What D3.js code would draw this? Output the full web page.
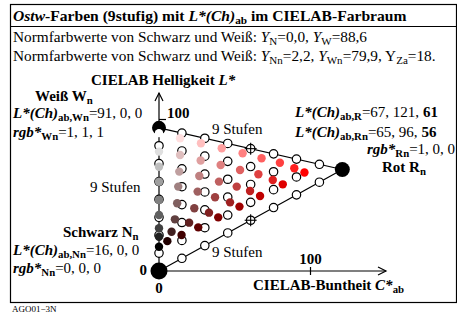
<!DOCTYPE html>
<html><head><meta charset="utf-8">
<script src="https://cdn.jsdelivr.net/npm/d3@7"></script>
<style>
body{margin:0;background:#fff}
svg{display:block}
text{font-family:"Liberation Serif","Times New Roman",serif;fill:#000}
</style>
</head><body>
<svg id="c" width="457" height="318"></svg>
<script>
// ---------- data ----------
const steps = 8;                       // 9 steps -> 8 intervals
const cornerNames = ["N", "W", "R"];
const cornerC = [0, 0, 121];           // theoretical corners (C*ab)
const cornerL = [0, 94.5, 67];         // theoretical corners (L*)
// gray axis samples (b = 0), whiteness index a = 0..8
const grayA = [0, 1, 2, 3, 4, 5, 6, 7, 8];
const grayL = [16, 22.6, 28.2, 37, 46.9, 58.9, 68.8, 78.8, 91];
// chromatic samples, one row per a+b = 8..1, red index b = 1..(a+b)
const rowSum = [8, 7, 6, 5, 4, 3, 2, 1];
const rowC = [
  [13.9, 27.7, 41.4, 55.2, 67.7, 79.8, 89.3, 96],
  [13.9, 27.5, 40.7, 53.5, 65.6, 75.1, 81.7],
  [13.4, 26.6, 39.6, 51.3, 60.1, 66.7],
  [12.7, 25.5, 37.0, 46.9, 53.1],
  [12.0, 23.3, 33.0, 39.1],
  [10.5, 19.9, 25.9],
  [8.3, 14.9],
  [5.5]
];
const rowL = [
  [87.6, 84.3, 81.0, 77.7, 74.4, 71.5, 67.8, 65],
  [76.6, 72.9, 70.0, 66.7, 63.9, 60.1, 57.2],
  [65.6, 62.7, 59.0, 55.7, 52.8, 49.5],
  [55.7, 52.4, 48.7, 45.3, 42.5],
  [44.7, 41.4, 38.5, 35.4],
  [34.1, 31.9, 28.8],
  [25.9, 23.8],
  [19.7]
];
const axisTicks = [0, 100];

// ---------- setup ----------
const svg = d3.select("#c");
const x = d3.scaleLinear().domain([0, 100]).range([159, 310.5]);
const y = d3.scaleLinear().domain([0, 100]).range([271, 119.5]);

// frame
svg.append("rect").attr("x", 10.5).attr("y", 4.5).attr("width", 446).attr("height", 298)
  .attr("fill", "none").attr("stroke", "#000").attr("stroke-width", 1.2);
svg.append("line").attr("x1", 10.5).attr("x2", 456.5).attr("y1", 26.5).attr("y2", 26.5)
  .attr("stroke", "#000").attr("stroke-width", 1.2);

function rich(px, py, parts, size, anchor) {
  const t = svg.append("text").attr("x", px).attr("y", py)
    .attr("font-size", size).attr("text-anchor", anchor || "start");
  let shift = 0;
  parts.forEach(p => {
    const s = t.append("tspan").text(p.t);
    if (p.b) s.attr("font-weight", "bold");
    if (p.i) s.attr("font-style", "italic");
    const want = p.sub ? size * 0.22 : 0;
    if (want !== shift) { s.attr("dy", want - shift); shift = want; }
    if (p.sub) s.attr("font-size", size * 0.72);
    if (p.dx) s.attr("dx", p.dx);
  });
  return t;
}

// header
rich(13, 21, [
  {t: "Ostw", b: 1, i: 1}, {t: "-Farben (9stufig) mit ", b: 1},
  {t: "L*(Ch)", b: 1, i: 1}, {t: "ab", b: 1, sub: 1}, {t: " im CIELAB-Farbraum", b: 1}
], 15.6);
rich(13, 42, [
  {t: "Normfarbwerte von Schwarz und Weiß: "}, {t: "Y", i: 1}, {t: "N", sub: 1},
  {t: "=0,0, "}, {t: "Y", i: 1}, {t: "W", sub: 1}, {t: "=88,6"}
], 15.3);
rich(13, 61, [
  {t: "Normfarbwerte von Schwarz und Weiß: "}, {t: "Y", i: 1}, {t: "Nn", sub: 1},
  {t: "=2,2, "}, {t: "Y", i: 1}, {t: "Wn", sub: 1}, {t: "=79,9, Y"}, {t: "Za", sub: 1}, {t: "=18."}
], 15.3);

// axis labels
rich(91, 85, [{t: "CIELAB Helligkeit ", b: 1}, {t: "L*", b: 1, i: 1}], 15);
rich(253, 290, [{t: "CIELAB-Buntheit ", b: 1}, {t: "C*", b: 1, i: 1}, {t: "ab", b: 1, sub: 1}], 15);

// corner labels
rich(35, 100.5, [{t: "Weiß W", b: 1}, {t: "n", b: 1, sub: 1}], 15);
rich(13, 118, [{t: "L*(Ch)", b: 1, i: 1}, {t: "ab,Wn", b: 1, sub: 1}, {t: "=91, 0, 0"}], 15);
rich(13, 137, [{t: "rgb*", b: 1, i: 1}, {t: "Wn", b: 1, sub: 1}, {t: "=1, 1, 1"}], 15);
rich(63, 237, [{t: "Schwarz N", b: 1}, {t: "n", b: 1, sub: 1}], 15);
rich(13, 255, [{t: "L*(Ch)", b: 1, i: 1}, {t: "ab,Nn", b: 1, sub: 1}, {t: "=16, 0, 0"}], 15);
rich(13, 273, [{t: "rgb*", b: 1, i: 1}, {t: "Nn", b: 1, sub: 1}, {t: "=0, 0, 0"}], 15);
rich(295, 117, [{t: "L*(Ch)", b: 1, i: 1}, {t: "ab,R", b: 1, sub: 1}, {t: "=67, 121, "}, {t: "61", b: 1}], 15);
rich(295, 137, [{t: "L*(Ch)", b: 1, i: 1}, {t: "ab,Rn", b: 1, sub: 1}, {t: "=65, 96, "}, {t: "56", b: 1}], 15);
rich(367, 154, [{t: "rgb*", b: 1, i: 1}, {t: "Rn", b: 1, sub: 1}, {t: "=1, 0, 0"}], 15);
rich(382, 172, [{t: "Rot R", b: 1}, {t: "n", b: 1, sub: 1}], 15);

// step labels
rich(212, 134, [{t: "9 Stufen"}], 15);
rich(90, 192, [{t: "9 Stufen"}], 15);
rich(212, 257, [{t: "9 Stufen"}], 15);

rich(12, 312, [{t: "AGO01\u22123N"}], 9);

// ---------- axes ----------
const axG = svg.append("g").attr("stroke", "#000").attr("stroke-width", 1.2).attr("fill", "none");
axG.append("line").attr("x1", x(0)).attr("x2", x(0)).attr("y1", y(0)).attr("y2", 93);
axG.append("path").attr("d", `M${x(0) - 4},101 L${x(0)},93 L${x(0) + 4},101`);
axG.append("line").attr("x1", x(0)).attr("x2", 386).attr("y1", y(0)).attr("y2", y(0));
axG.append("path").attr("d", `M378,${y(0) - 4} L386,${y(0)} L378,${y(0) + 4}`);
// ticks
axG.append("line").attr("x1", x(0)).attr("x2", x(0) + 7).attr("y1", y(100)).attr("y2", y(100));
axG.append("line").attr("x1", x(100)).attr("x2", x(100)).attr("y1", y(0) - 4).attr("y2", y(0) + 4);

svg.append("text").attr("x", x(0) + 8).attr("y", y(100) - 2).attr("font-size", 15)
  .attr("font-weight", "bold").text(axisTicks[1]);
svg.append("text").attr("x", x(100)).attr("y", y(0) - 7).attr("font-size", 15)
  .attr("font-weight", "bold").attr("text-anchor", "middle").text(axisTicks[1]);
svg.append("text").attr("x", x(0) - 12).attr("y", y(0) + 4).attr("font-size", 15)
  .attr("font-weight", "bold").attr("text-anchor", "end").text(axisTicks[0]);
svg.append("text").attr("x", x(0)).attr("y", y(0) + 22).attr("font-size", 15)
  .attr("font-weight", "bold").attr("text-anchor", "middle").text(axisTicks[0]);

// ---------- triangle edges ----------
const cx = i => x(cornerC[i]), cy = i => y(cornerL[i]);
axG.append("line").attr("x1", cx(1)).attr("y1", cy(1)).attr("x2", cx(2)).attr("y2", cy(2));
axG.append("line").attr("x1", cx(0)).attr("y1", cy(0)).attr("x2", cx(2)).attr("y2", cy(2));

// ---------- theoretical grid (open circles) ----------
const grid = [];
for (let a = 0; a <= steps; a++) for (let b = 0; b <= steps - a; b++) {
  const C = cornerC[0] + (cornerC[1] - cornerC[0]) * a / steps + (cornerC[2] - cornerC[0]) * b / steps;
  const L = cornerL[0] + (cornerL[1] - cornerL[0]) * a / steps + (cornerL[2] - cornerL[0]) * b / steps;
  grid.push({a, b, C, L});
}
svg.append("g").selectAll("circle").data(grid.filter(d => !((d.a === 0 && d.b === 0) || d.a === steps || d.b === steps)))
  .join("circle").attr("cx", d => x(d.C)).attr("cy", d => y(d.L)).attr("r", 4.2)
  .attr("fill", "#fff").attr("stroke", "#000").attr("stroke-width", 1.2);
// crosshairs at the edge midpoints
const mids = grid.filter(d => (d.a === 0 && d.b === steps / 2) || (d.a === steps / 2 && d.b === steps / 2));
const chG = svg.append("g").attr("stroke", "#000").attr("stroke-width", 1.1);
mids.forEach(d => {
  chG.append("line").attr("x1", x(d.C) - 6).attr("x2", x(d.C) + 6).attr("y1", y(d.L)).attr("y2", y(d.L));
  chG.append("line").attr("x1", x(d.C)).attr("x2", x(d.C)).attr("y1", y(d.L) - 6).attr("y2", y(d.L) + 6);
});

// ---------- corner points ----------
const cornerR = [8.5, 7, 7.5];
svg.append("g").selectAll("circle").data(cornerNames).join("circle")
  .attr("cx", (d, i) => cx(i)).attr("cy", (d, i) => cy(i)).attr("r", (d, i) => cornerR[i]).attr("fill", "#000");

// ---------- samples ----------
const samples = [];
grayA.forEach((a, i) => samples.push({a, b: 0, C: 0, L: grayL[i]}));
rowSum.forEach((s, r) => rowC[r].forEach((C, j) => samples.push({a: s - (j + 1), b: j + 1, C, L: rowL[r][j]})));
const col = d => {
  const r = Math.round(255 * (d.a + d.b) / steps), g = Math.round(255 * d.a / steps);
  return `rgb(${r},${g},${g})`;
};
svg.append("g").selectAll("circle").data(samples).join("circle")
  .attr("cx", d => x(d.C)).attr("cy", d => y(d.L)).attr("r", 4.2).attr("fill", col);
</script>
</body></html>
